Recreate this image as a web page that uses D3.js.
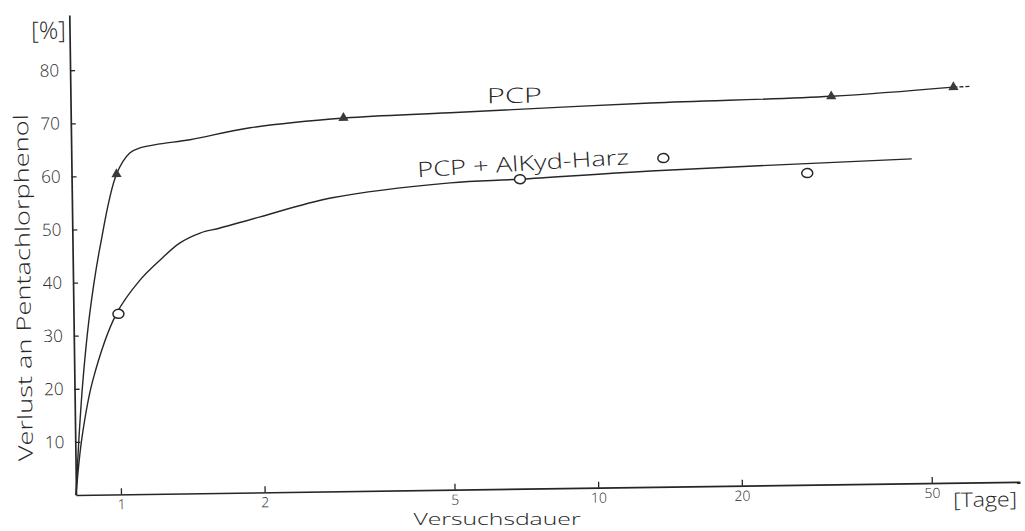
<!DOCTYPE html>
<html>
<head>
<meta charset="utf-8">
<script src="https://cdn.jsdelivr.net/npm/d3@7"></script>
<style>
  body { margin: 0; background: #fff; }
  text { font-family: "Open Sans", sans-serif; font-weight: 300; fill: #262626; }
</style>
</head>
<body>
<div id="chart"></div>
<script>
// tick values
const xTicks = [1, 2, 5, 10, 20, 50];
const yTicks = [10, 20, 30, 40, 50, 60, 70, 80];

// measured points [days, %]
const pcpPoints = [[1, 60.3], [3, 70.3], [31.6, 73.1], [57, 74.5]];
const alkydPoints = [[1, 34], [7, 58.3], [14, 61.9], [28, 58.7]];

// hand drawn curves [days, %]
const pcpCurve = [[0.805, 0], [0.82, 10.9], [0.839, 21.6], [0.871, 34.2], [0.919, 46.6], [1.0, 60.3],
  [1.069, 64.3], [1.122, 65.2], [1.236, 65.9], [1.429, 66.6], [1.911, 68.7], [3.02, 70.3],
  [5.02, 71.0], [13.2, 72.3], [31.6, 73.1], [57, 74.5]];
const pcpTail = [[57, 74.5], [62, 74.6]];
const alkydCurve = [[0.805, 0], [0.832, 10.9], [0.88, 21.6], [0.99, 34], [1.112, 40.3], [1.226, 44.0],
  [1.352, 47.2], [1.491, 49.0], [1.642, 49.9], [1.994, 51.9], [2.826, 55.3], [5.0, 57.8],
  [7, 58.3], [13.15, 59.5], [46.4, 61.1]];

function init() {
  const width = 1025, height = 531;
  const origin = { x: 76, y: 495 };
  const plotW = 944, plotH = 480;
  const ink = "#262626";

  const svg = d3.select("#chart")
    .append("svg")
    .attr("width", width)
    .attr("height", height);

  // the scanned sheet is slightly turned
  const g = svg.append("g")
    .attr("transform", "translate(" + origin.x + "," + origin.y + ") rotate(-0.8)");

  const x = d3.scaleLog().domain([0.805, 76.5]).range([0, plotW]);
  const y = d3.scaleLinear().domain([0, 90.4]).range([0, -plotH]);

  // y axis
  const yAxis = g.append("g")
    .call(d3.axisLeft(y).tickValues(yTicks).tickSizeInner(-5).tickSizeOuter(0).tickPadding(11));
  yAxis.selectAll("text").style("font-size", "17px").attr("fill", ink);

  // x axis
  const xAxis = g.append("g")
    .call(d3.axisBottom(x).tickValues(xTicks).tickFormat(d3.format("d"))
      .tickSizeInner(-6).tickSizeOuter(0).tickPadding(5));
  xAxis.selectAll("text").style("font-size", "14px").attr("fill", ink);

  g.selectAll(".domain").attr("stroke", ink).attr("stroke-width", 1.7);
  g.selectAll(".tick line").attr("stroke", ink).attr("stroke-width", 1.3);

  // curves
  const line = d3.line()
    .x(d => x(d[0]))
    .y(d => y(d[1]))
    .curve(d3.curveCatmullRom.alpha(0.5));

  g.append("path").datum(pcpCurve)
    .attr("fill", "none").attr("stroke", ink).attr("stroke-width", 1.4)
    .attr("d", line);
  g.append("path").datum(pcpTail)
    .attr("fill", "none").attr("stroke", ink).attr("stroke-width", 1.4)
    .attr("stroke-dasharray", "4,2")
    .attr("d", line);
  g.append("path").datum(alkydCurve)
    .attr("fill", "none").attr("stroke", ink).attr("stroke-width", 1.4)
    .attr("d", line);

  // markers
  g.selectAll(".tri")
    .data(pcpPoints)
    .enter().append("path")
    .attr("class", "tri")
    .attr("d", d3.symbol().type(d3.symbolTriangle).size(45))
    .attr("transform", d => "translate(" + x(d[0]) + "," + y(d[1]) + ")")
    .attr("fill", "#3a3a3a");

  g.selectAll(".circ")
    .data(alkydPoints)
    .enter().append("ellipse")
    .attr("class", "circ")
    .attr("cx", d => x(d[0]))
    .attr("cy", d => y(d[1]))
    .attr("rx", 5.5)
    .attr("ry", 4.5)
    .attr("fill", "#fff")
    .attr("stroke", ink)
    .attr("stroke-width", 1.5);

  // labels
  g.append("text")
    .attr("x", 444).attr("y", -386)
    .attr("text-anchor", "middle")
    .attr("textLength", 55).attr("lengthAdjust", "spacingAndGlyphs")
    .style("font-size", "21px")
    .text("PCP");

  // written a little uphill
  g.append("text")
    .attr("transform", "translate(452,-318) rotate(-2.7)")
    .attr("text-anchor", "middle")
    .attr("textLength", 212).attr("lengthAdjust", "spacingAndGlyphs")
    .style("font-size", "21px")
    .text("PCP + AlKyd-Harz");

  g.append("text")
    .attr("x", -21).attr("y", -463)
    .attr("text-anchor", "middle")
    .attr("dominant-baseline", "middle")
    .style("font-size", "24px")
    .text("[%]");

  g.append("text")
    .attr("transform", "translate(-48,-208) rotate(-90)")
    .attr("text-anchor", "middle")
    .attr("dominant-baseline", "middle")
    .attr("textLength", 347).attr("lengthAdjust", "spacingAndGlyphs")
    .style("font-size", "20px")
    .text("Verlust an Pentachlorphenol");

  // x title sits right at the bottom edge, kept unturned
  svg.append("text")
    .attr("x", 497).attr("y", 525)
    .attr("text-anchor", "middle")
    .attr("textLength", 167).attr("lengthAdjust", "spacingAndGlyphs")
    .style("font-size", "16px")
    .text("Versuchsdauer");

  g.append("text")
    .attr("x", 877).attr("y", 19)
    .attr("dominant-baseline", "middle")
    .attr("textLength", 64).attr("lengthAdjust", "spacingAndGlyphs")
    .style("font-size", "20px")
    .text("[Tage]");
}

window.onload = init;
</script>
</body>
</html>
